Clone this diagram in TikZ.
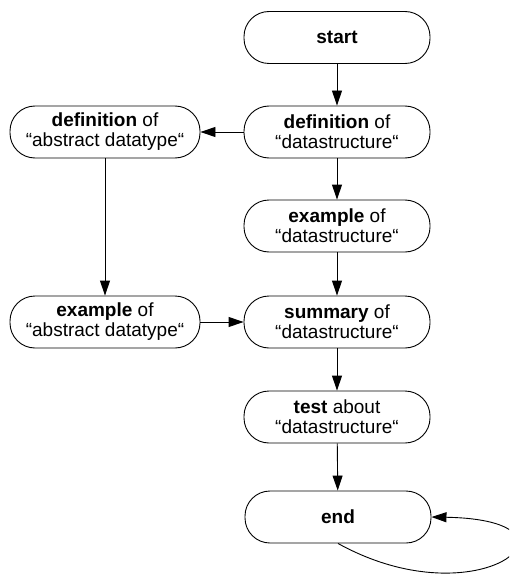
\documentclass[tikz,border=0pt]{standalone}
\usepackage{fontspec}
\setmainfont{Liberation Sans}
\usetikzlibrary{arrows.meta}

\begin{document}
\begin{tikzpicture}[x=1pt, y=-1pt, line width=0.9pt,
  flow/.style={draw, rounded corners=25pt, minimum width=186pt, minimum height=52pt,
    align=center, inner sep=0pt, font=\fontsize{19}{20}\selectfont},
  wideflow/.style={flow, minimum width=190pt},
  >={Triangle[length=15pt,width=10pt]}]
  \useasboundingbox (0,0) rectangle (509,575);
  \clip (0,0) rectangle (509,575);

  % main column
  \node[flow] (start) at (337,37.5) {\textbf{start}};
  \node[flow] (defds) at (337,132) {\textbf{definition} of\\“datastructure“};
  \node[flow] (exds)  at (337,226) {\textbf{example} of\\“datastructure“};
  \node[flow] (sumds) at (337,322) {\textbf{summary} of\\“datastructure“};
  \node[flow] (testds) at (337,417) {\textbf{test} about\\“datastructure“};
  \node[flow] (finish) at (338,517) {\textbf{end}};

  % side column
  \node[wideflow] (defadt) at (105,132) {\textbf{definition} of\\“abstract datatype“};
  \node[wideflow] (exadt)  at (105,322) {\textbf{example} of\\“abstract datatype“};

  % connectors
  \draw[->] (start) -- (defds);
  \draw[->] (defds) -- (defadt);
  \draw[->] (defds) -- (exds);
  \draw[->] (defadt) -- (exadt);
  \draw[->] (exds) -- (sumds);
  \draw[->] (exadt) -- (sumds);
  \draw[->] (sumds) -- (testds);
  \draw[->] (testds) -- (finish);
  \draw[->] (finish.south) .. controls (480,622) and (600,520) .. (finish.east);
\end{tikzpicture}
\end{document}
